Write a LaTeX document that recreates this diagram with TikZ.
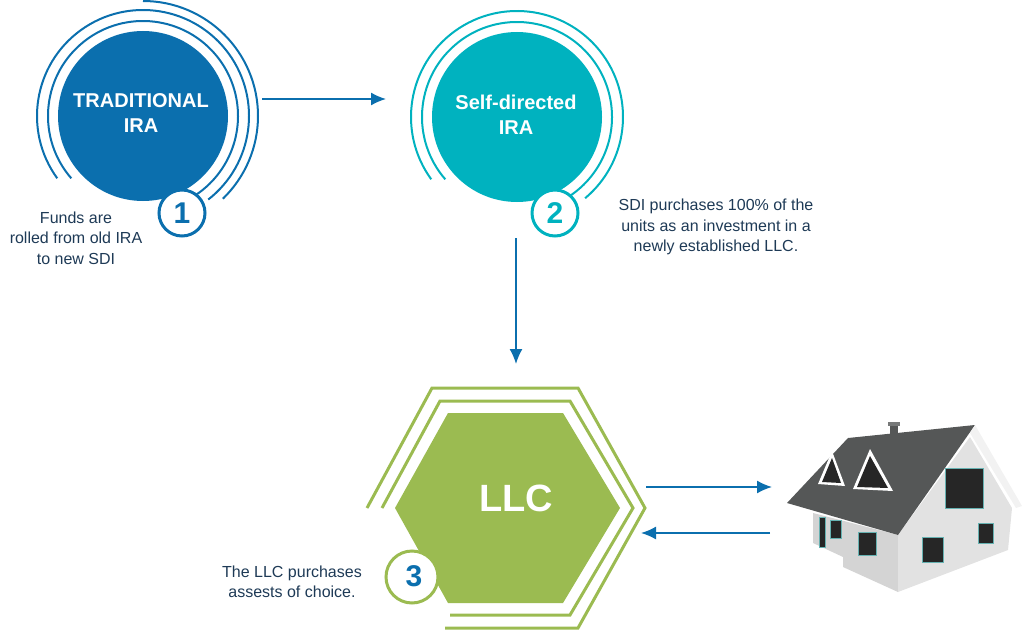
\documentclass[tikz,border=0pt]{standalone}
\usepackage{fontspec}
\setmainfont{Liberation Sans}
\definecolor{blu}{HTML}{0B6FAE}
\definecolor{tea}{HTML}{00B2BF}
\definecolor{grn}{HTML}{9BBB51}
\definecolor{txt}{HTML}{1E3A56}
\definecolor{roof}{HTML}{555757}
\definecolor{wall}{HTML}{D4D4D4}
\definecolor{gable}{HTML}{E2E2E2}
\usetikzlibrary{arrows.meta}
\begin{document}
\begin{tikzpicture}[x=1pt,y=-1pt,
  ring/.style={line width=2pt},
  badge/.style={circle,draw,fill=white,line width=3pt,minimum size=46pt,inner sep=0pt,font=\bfseries\fontsize{30}{32}\selectfont},
  lbl/.style={text=white,font=\bfseries\fontsize{20}{25}\selectfont,align=center},
  note/.style={text=txt,font=\fontsize{16}{20.5}\selectfont,align=center},
  arr/.style={blu,line width=1.6pt,-{Latex[length=15pt,width=13pt]}},
  win/.style={fill=black!85,draw=teal!60,line width=0.8pt}]
\useasboundingbox (0,0) rectangle (1024,631);
% circle 1
\fill[blu] (143,116) circle (85);
\node[lbl] (c1) at (141,113) {TRADITIONAL\\IRA};
\draw[blu,ring] (143,116) ++(-221:95) arc (-221:58:95);
\draw[blu,ring] (143,116) ++(-216:106) arc (-216:52:106);
\draw[blu,ring] (143,116) ++(-90:115) arc (-90:46:115);
\node[badge,draw=blu,text=blu] (b1) at (182,213) {1};
\node[note] (n1) at (76,238) {Funds are\\rolled from old IRA\\to new SDI};
% circle 2
\fill[tea] (517,117) circle (85);
\node[lbl] (c2) at (516,115) {Self-directed\\IRA};
\draw[tea,ring] (517,117) ++(-221:95) arc (-221:58:95);
\draw[tea,ring] (517,117) ++(-216:106) arc (-216:50:106);
\node[badge,draw=tea,text=tea] (b2) at (555,213) {2};
\node[note] (n2) at (716,227) {SDI purchases 100\% of the\\units as an investment in a\\newly established LLC.};
% hexagon
\fill[grn] (395,508) -- (448,413) -- (563,413) -- (620,508) -- (563,603) -- (448,603) -- cycle;
\draw[grn,line width=3pt] (382,508) -- (440,401) -- (570,401) -- (633,508) -- (570,615) -- (450,615);
\draw[grn,line width=3pt] (367,508) -- (432,388) -- (578,388) -- (645,508) -- (578,628) -- (445,628);
\node[text=white,font=\bfseries\fontsize{38}{40}\selectfont] (llc) at (516,498) {LLC};
\draw[grn,line width=3pt,fill=white] (412,577) circle (26);
\node[text=blu,font=\bfseries\fontsize{30}{32}\selectfont] (b3) at (414,576) {3};
\node[note] (n3) at (292,582) {The LLC purchases\\assests of choice.};
% arrows
\coordinate (a1s) at (262,99); \coordinate (a1e) at (386,99);
\draw[arr] (a1s) -- (a1e);
\coordinate (a2s) at (516,238); \coordinate (a2e) at (516,364);
\draw[arr] (a2s) -- (a2e);
\coordinate (a3s) at (646,487); \coordinate (a3e) at (772,487);
\draw[arr] (a3s) -- (a3e);
\coordinate (a4s) at (770,533); \coordinate (a4e) at (641,533);
\draw[arr] (a4s) -- (a4e);
% house
\fill[wall] (813,513) -- (898,535) -- (898,592) -- (843,567) -- (843,557) -- (813,543) -- cycle;
\fill[gable] (970,437) -- (898,535) -- (898,592) -- (1008,550) -- (1012,508) -- cycle;
\fill[roof] (787,503) -- (848,438) -- (975,425) -- (898,535) -- cycle;
\fill[white!90!gray] (975,425) -- (1022,506) -- (1016,508) -- (970,433) -- cycle;
\fill[roof] (890,424) rectangle (898,442);
\fill[roof!80] (888,422) rectangle (900,426);
\fill[white] (832,451) -- (818,484) -- (845,486) -- cycle;
\fill[black!85] (832,458) -- (822,482) -- (841,483) -- cycle;
\fill[white] (870,449) -- (853,489) -- (893,491) -- cycle;
\fill[black!85] (870,456) -- (857,487) -- (888,488) -- cycle;
\fill[win] (945,468) rectangle (983,508);
\fill[win] (922,537) rectangle (943,562);
\fill[win] (978,523) rectangle (993,543);
\fill[win] (858,532) rectangle (876,555);
\fill[win] (830,520) rectangle (841,538);
\fill[win] (819,517) rectangle (825,547);
\end{tikzpicture}
\end{document}
